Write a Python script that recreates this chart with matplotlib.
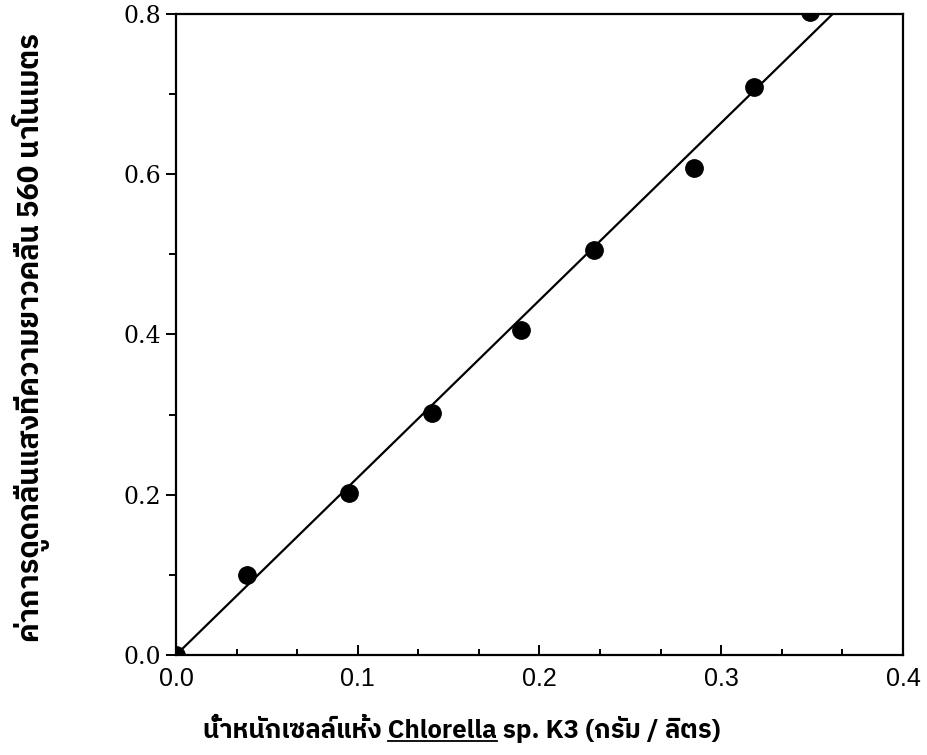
import matplotlib
matplotlib.use("Agg")
import matplotlib.pyplot as plt
from matplotlib import font_manager
from matplotlib.ft2font import FT2Font
from matplotlib.ticker import MultipleLocator, FormatStrFormatter
from matplotlib.lines import Line2D

# Dry cell weight (g/L) and absorbance at 560 nm
dry_weight = [0.0, 0.039, 0.095, 0.141, 0.19, 0.23, 0.285, 0.318, 0.349]
absorbance = [0.0, 0.100, 0.202, 0.302, 0.405, 0.506, 0.608, 0.709, 0.803]

# Standard curve through the origin
slope = 2.214

x_ticks = [0.0, 0.1, 0.2, 0.3, 0.4]
y_ticks = [0.0, 0.2, 0.4, 0.6, 0.8]

ylabel_text = "ค่าการดูดกลืนแสงที่ความยาวคลื่น 560 นาโนเมตร"
xlabel_pre = "น้ำหนักเซลล์แห้ง "
xlabel_species = "Chlorella"
xlabel_post = " sp. K3 (กรัม / ลิตร)"


def thai_family():
    """Return the name of an installed font that covers Thai script."""
    seen = set()
    found = []
    for fe in font_manager.fontManager.ttflist:
        if fe.fname in seen:
            continue
        seen.add(fe.fname)
        try:
            cmap = FT2Font(fe.fname).get_charmap()
        except Exception:
            continue
        if 0x0E01 in cmap and 0x0E49 in cmap and 0x0E33 in cmap:
            found.append(fe)
    if not found:
        return None
    found.sort(key=lambda f: (0 if "Sans" in f.name else 1,
                              0 if f.weight in ("bold", 700) else 1))
    return found[0].name


thai = thai_family()
label_family = ([thai] if thai else []) + ["DejaVu Sans"]
LABEL_SIZE_Y = 21
LABEL_SIZE_X = 18.5

fig = plt.figure(figsize=(9.28, 7.55), dpi=100)
ax = fig.add_axes([0.1897, 0.1325, 0.7833, 0.849])

ax.plot([0.0, 0.4], [0.0, slope * 0.4], color="black", lw=1.6, zorder=2)
ax.plot(dry_weight, absorbance, "o", color="black", ms=12.5, zorder=3,
        clip_on=True)

ax.set_xlim(0.0, 0.4)
ax.set_ylim(0.0, 0.8)

for s in ax.spines.values():
    s.set_linewidth(1.6)
    s.set_zorder(4)

ax.xaxis.set_minor_locator(MultipleLocator(0.1 / 3))
ax.yaxis.set_minor_locator(MultipleLocator(0.1))
ax.set_xticks(x_ticks)
ax.set_yticks(y_ticks)
ax.xaxis.set_major_formatter(FormatStrFormatter("%.1f"))
ax.yaxis.set_major_formatter(FormatStrFormatter("%.1f"))

ax.tick_params(axis="x", which="major", direction="in", length=7, width=1.4,
               pad=9, top=False)
ax.tick_params(axis="x", which="minor", direction="in", length=4, width=1.4,
               top=False)
ax.tick_params(axis="y", which="major", direction="out", length=7, width=1.4,
               pad=4, right=False)
ax.tick_params(axis="y", which="minor", direction="out", length=5, width=1.4,
               right=False)

for lab in ax.get_xticklabels():
    lab.set_family(["Liberation Sans Narrow", "Liberation Sans"])
    lab.set_fontsize(18)
for lab in ax.get_yticklabels():
    lab.set_family(["DejaVu Serif"])
    lab.set_fontsize(17)

# y-axis title
fig.text(0.033, 0.553, ylabel_text, rotation=90, ha="center", va="center",
         fontsize=LABEL_SIZE_Y, fontweight="bold", family=label_family)

# x-axis title with the genus name underlined
full = xlabel_pre + xlabel_species + xlabel_post
y_txt = 0.022
xt = fig.text(0.498, y_txt, full, ha="center", va="baseline",
              fontsize=LABEL_SIZE_X, fontweight="bold", family=label_family)

fig.canvas.draw()
renderer = fig.canvas.get_renderer()


def width_of(s):
    t = fig.text(0, 0, s, fontsize=LABEL_SIZE_X, fontweight="bold",
                 family=label_family)
    w = t.get_window_extent(renderer).width
    t.remove()
    return w


bb = xt.get_window_extent(renderer)
w_end = width_of(xlabel_pre + xlabel_species)
w_sp = width_of(xlabel_species)
x_start = bb.x0 + w_end - w_sp
x_end = bb.x0 + w_end
W, H = fig.bbox.width, fig.bbox.height
y_line = y_txt * H - 3
fig.add_artist(Line2D([x_start / W, x_end / W], [y_line / H, y_line / H],
                      transform=fig.transFigure, color="black", lw=1.3))

fig.savefig("out.png", dpi=100)
